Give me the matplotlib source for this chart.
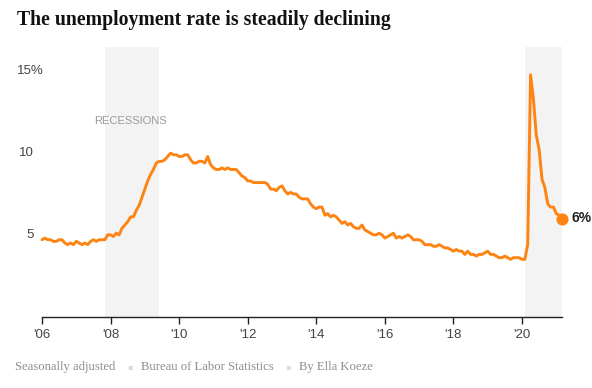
import matplotlib
matplotlib.use("Agg")
import matplotlib.pyplot as plt
import matplotlib.transforms as mtransforms
import numpy as np

# Stopa bezrobocia (miesięcznie, wyrównana sezonowo), styczeń 2006 - marzec 2021
rate = [
    4.7, 4.8, 4.7, 4.7, 4.6, 4.6, 4.7, 4.7, 4.5, 4.4, 4.5, 4.4,   # 2006
    4.6, 4.5, 4.4, 4.5, 4.4, 4.6, 4.7, 4.6, 4.7, 4.7, 4.7, 5.0,   # 2007
    5.0, 4.9, 5.1, 5.0, 5.4, 5.6, 5.8, 6.1, 6.1, 6.5, 6.8, 7.3,   # 2008
    7.8, 8.3, 8.7, 9.0, 9.4, 9.5, 9.5, 9.6, 9.8, 10.0, 9.9, 9.9,  # 2009
    9.8, 9.8, 9.9, 9.9, 9.6, 9.4, 9.4, 9.5, 9.5, 9.4, 9.8, 9.3,   # 2010
    9.1, 9.0, 9.0, 9.1, 9.0, 9.1, 9.0, 9.0, 9.0, 8.8, 8.6, 8.5,   # 2011
    8.3, 8.3, 8.2, 8.2, 8.2, 8.2, 8.2, 8.1, 7.8, 7.8, 7.7, 7.9,   # 2012
    8.0, 7.7, 7.5, 7.6, 7.5, 7.5, 7.3, 7.2, 7.2, 7.2, 6.9, 6.7,   # 2013
    6.6, 6.7, 6.7, 6.2, 6.3, 6.1, 6.2, 6.1, 5.9, 5.7, 5.8, 5.6,   # 2014
    5.7, 5.5, 5.4, 5.4, 5.6, 5.3, 5.2, 5.1, 5.0, 5.0, 5.1, 5.0,   # 2015
    4.8, 4.9, 5.0, 5.1, 4.8, 4.9, 4.8, 4.9, 5.0, 4.9, 4.7, 4.7,   # 2016
    4.7, 4.6, 4.4, 4.4, 4.4, 4.3, 4.3, 4.4, 4.3, 4.2, 4.2, 4.1,   # 2017
    4.0, 4.1, 4.0, 4.0, 3.8, 4.0, 3.8, 3.8, 3.7, 3.8, 3.8, 3.9,   # 2018
    4.0, 3.8, 3.8, 3.7, 3.6, 3.6, 3.7, 3.6, 3.5, 3.6, 3.6, 3.6,   # 2019
    3.5, 3.5, 4.4, 14.8, 13.3, 11.1, 10.2, 8.4, 7.9, 6.9, 6.7, 6.7,  # 2020
    6.3, 6.2, 6.0,                                                # 2021
]
start_year = 2006
recessions = [(2007 + 10 / 12, 2009 + 5 / 12), (2020 + 1 / 12, 2021 + 2 / 12)]
x_ticks = [2006, 2008, 2010, 2012, 2014, 2016, 2018, 2020]
x_labels = ["'06", "'08", "'10", "'12", "'14", "'16", "'18", "'20"]
y_ticks = [5, 10, 15]
y_labels = ["5", "10", "15%"]

months = start_year + np.arange(len(rate)) / 12

W, H = 592, 388
fig = plt.figure(figsize=(W / 100, H / 100), dpi=100)
ax = fig.add_axes([42 / W, (H - 316.5) / H, 520 / W, 269.5 / H])

orange = "#fd8412"

# szare pasy recesji
for a, b in recessions:
    ax.axvspan(a, b, color="#f3f3f3", lw=0, zorder=0)

ax.plot(months, rate, color=orange, lw=2.1, solid_joinstyle="round",
        solid_capstyle="round", clip_on=False, zorder=3)
ax.scatter([months[-1]], [rate[-1]], s=60, color=orange, clip_on=False, zorder=4)
ax.text(months[-1] + 0.27, rate[-1], "6%", fontsize=10, fontweight="bold",
        color="#222222", va="center", ha="left", family="Liberation Sans")

ax.text((recessions[0][0] + recessions[0][1]) / 2 - 0.05, 11.95, "RECESSIONS",
        fontsize=8, color="#9a9a9a", ha="center", va="center",
        family="Liberation Sans")

ax.set_xlim(start_year, months[-1])
ax.set_ylim(0, 16.5)

for s in ["top", "left", "right"]:
    ax.spines[s].set_visible(False)
ax.spines["bottom"].set_color("#222222")
ax.spines["bottom"].set_linewidth(1.0)

ax.set_xticks(x_ticks)
ax.set_xticklabels(x_labels, family="Liberation Sans", fontsize=9.5, color="#444444")
ax.tick_params(axis="x", length=5, width=1, color="#222222", pad=4)
ax.set_yticks([])

# etykiety osi y - liczby wyrównane do prawej, "15%" od lewej krawędzi
tr = mtransforms.blended_transform_factory(fig.transFigure, ax.transData)
for v, lab in zip(y_ticks, y_labels):
    if lab.endswith("%"):
        ax.text(17 / W, v, lab, transform=tr, ha="left", va="center",
                fontsize=9.5, color="#444444", family="Liberation Sans")
    else:
        ax.text(33.5 / W, v, lab, transform=tr, ha="right", va="center",
                fontsize=9.5, color="#444444", family="Liberation Sans")

fig.text(17 / W, 1 - 20 / H, "The unemployment rate is steadily declining",
         fontsize=14.2, fontweight="bold", family="Liberation Serif",
         color="#121212", va="center", ha="left")

# stopka
foot_y = 1 - 367 / H
foot_kw = dict(fontsize=9.1, color="#8f8f8f", family="Liberation Serif", va="center")
fig.text(15 / W, foot_y, "Seasonally adjusted", **foot_kw)
fig.text(130 / W, foot_y, "\u25aa", fontsize=6, color="#dddddd", va="center", ha="center")
fig.text(141 / W, foot_y, "Bureau of Labor Statistics", **foot_kw)
fig.text(288 / W, foot_y, "\u25aa", fontsize=6, color="#dddddd", va="center", ha="center")
fig.text(299 / W, foot_y, "By Ella Koeze", **foot_kw)

fig.savefig("out.png", dpi=100)
